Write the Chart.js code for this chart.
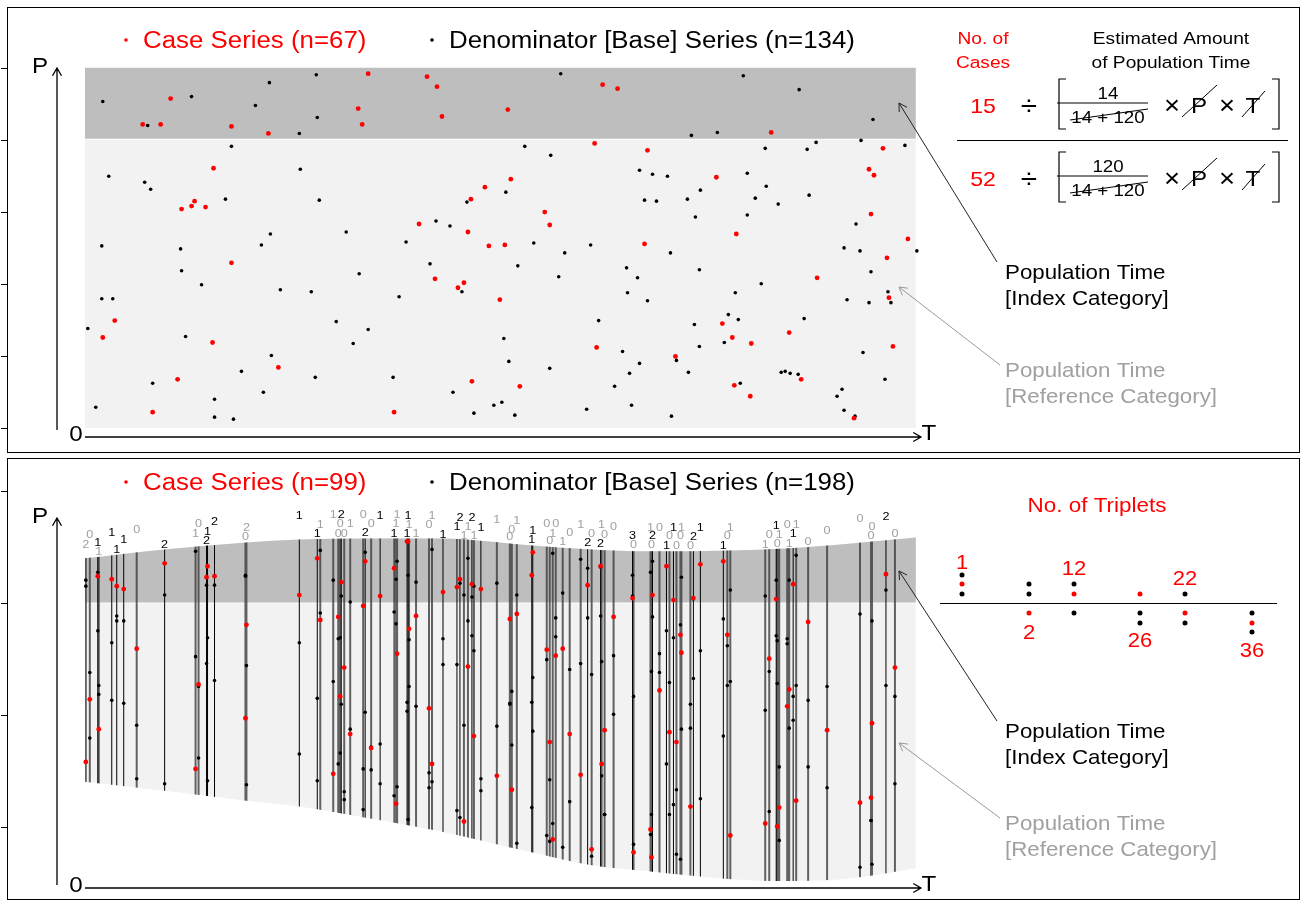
<!DOCTYPE html>
<html>
<head>
<meta charset="utf-8">
<title>Case series and base series in population time</title>
<script src="https://cdn.jsdelivr.net/npm/chart.js@4/dist/chart.umd.min.js"></script>
<style>
html, body { margin: 0; padding: 0; background: #fff; overflow: hidden; }
#wrap { position: relative; width: 1301px; height: 902px; }
#top { position: absolute; left: 0; top: 0; }
#bot { position: absolute; left: 0; top: 455px; }
</style>
</head>
<body>
<div id="wrap">
  <canvas id="top" width="1301" height="455"></canvas>
  <canvas id="bot" width="1301" height="447"></canvas>
</div>
<script>
// ---------------- top panel: cases / base series (T, P) ----------------
var topCaseT = [86,274,58,76,147,184,278,129,110,107,121,97,147,30,18,128,194,93,68,
  284,343,353,358,424,519,534,511,427,401,387,461,466,335,384,405,421,561,351,374,380,416,513,388,436,310,
  688,564,800,633,786,791,788,653,825,804,734,806,639,649,668,706,810,592,718,651,667,771];
var topCaseP = [331,321,305,305,303,296,305,261,228,223,222,220,166,108,91,86,61,49,16,
  356,353,343,313,320,345,341,286,250,242,230,217,204,205,197,183,184,185,150,141,146,129,81,47,42,16,
  297,279,281,252,260,254,215,195,190,171,151,131,105,91,85,96,82,72,49,43,32,10];
var topBaseT = [232,185,18,107,171,233,63,215,147,24,216,60,66,141,235,186,177,262,17,96,97,275,117,196,227,17,28,252,3,284,101,269,187,157,231,68,179,130,11,130,149,
  477,441,467,556,422,383,561,352,366,322,450,507,481,346,434,475,543,554,378,544,564,315,515,420,539,425,466,556,546,309,531,369,548,410,418,390,431,503,
  660,716,790,608,634,778,733,724,682,822,569,584,664,683,617,604,573,672,695,726,664,612,773,587,761,777,834,616,788,678,652,805,808,764,786,645,655,721,611,616,641,780,593,605,698,702,707,715,802,657,759,754,761,772,588];
var topBaseP = [355,347,328,333,324,312,304,296,283,253,260,247,240,230,229,195,184,197,183,180,158,155,144,139,137,130,130,107,100,99,92,85,73,57,51,45,36,29,21,11,9,
  356,283,274,259,237,227,229,208,203,187,186,184,176,165,163,152,161,151,137,136,128,132,108,90,77,67,60,65,55,51,42,36,23,23,26,15,13,19,
  354,340,310,294,297,289,287,280,281,284,255,253,256,243,239,230,228,231,225,234,214,212,205,176,181,178,178,159,157,145,136,137,126,129,126,114,109,110,104,82,86,76,68,56,56,57,55,54,49,45,39,32,18,12,12];
var topSpanT = [0, 833];
var topIndexP = [290.7, 362];     // index category band
var topRefP = [0, 289.7];         // reference category band
var topTicksP = [0, 72.4, 144.8, 217.2, 289.6, 362];

// ---------------- bottom panel: triplets ----------------
var bndT    = [0, 80, 162, 215, 280, 357, 448, 508, 565, 648, 702, 768, 833];
var bndTopP = [384, 393, 400, 403, 404, 404, 397, 393, 391, 392, 394, 399, 405];
var bndBotP = [159, 150, 140, 134, 123, 109, 88, 75, 69, 61, 59, 62, 72];
var botIndexP = 339;
var botTicksP = [113, 226, 339, 452];

var triT = [1,5,13,14,27,32,39,52,80,111,114,122,123,130,161,162,215,233,236,249,254,256,257,260,266,279,281,
  287,296,310,312,313,323,324,325,332,345,348,359,373,376,380,384,388,390,397,413,426,428,433,448,449,463,466,469,472,479,486,497,504,508,517,518,521,530,549,550,
  567,568,569,576,583,586,590,593,597,598,607,610,617,640,644,647,682,686,693,694,696,704,706,710,713,725,744,777,788,789,803,812];
var triLab = ['2','0','1','1','1','1','1','0','2','1','0','2','1','2','0','2','1','1','1','1','0','0','2','0','1','0','2',
  '0','1','1','1','1','1','1','1','1','0','1','1','1','2','1','1','2','1','1','1','0','0','1','1','1','0','0','1','0','1','0','1','2','0','2','1','0','0','3','0',
  '1','0','2','0','1','0','1','0','0','1','0','2','1','1','0','1','1','0','1','0','1','0','1','1','1','0','0','0','0','0','2','0'];
var triGray = [1,1,0,1,0,0,0,1,0,1,1,0,0,0,1,1,0,0,1,1,1,1,0,1,1,1,0,
  1,0,0,1,1,0,0,1,1,1,1,0,0,0,1,1,0,1,0,1,1,1,1,0,0,1,1,1,1,1,1,1,0,1,0,1,1,1,0,1,
  1,1,0,1,0,1,0,1,1,1,1,0,0,0,1,1,1,1,0,1,1,1,1,0,1,1,1,1,1,1,0,1];
var triLabP = [399,409,401,392,411,394,404,414,399,410,420,403,412,422,407,416,428,410,419,429,410,420,429,410,420,429,411,
  420,428,410,420,429,410,428,419,410,419,428,409,417,426,408,417,426,408,416,424,407,414,423,404,413,420,403,410,420,402,411,419,401,410,400,419,409,417,408,399,
  416,399,408,416,398,408,416,398,408,416,398,407,416,398,408,416,399,409,418,400,409,419,400,410,419,402,413,425,408,417,427,410];
var triCaseP = [179,242,366,212,363,356,353,293,379,172,257,365,376,366,223,317,347,384,322,167,325,245,360,274,207,336,381,
  193,346,374,137,288,401,401,313,326,233,177,350,355,363,119,275,358,205,353,165,323,151,328,367,390,292,199,101,286,293,207,166,357,91,376,177,211,325,344,88,
  111,83,347,251,376,209,342,199,307,289,134,344,378,381,307,105,117,283,343,114,133,235,252,358,140,320,211,138,143,218,368,274];
var triBaseP1 = [362,269,370,256,299,326,321,216,347,391,255,357,304,357,367,276,299,243,392,362,303,304,346,149,340,172,390,
  171,197,330,363,381,239,367,302,360,168,393,303,277,359,347,384,345,356,162,359,238,250,347,239,264,282,161,389,324,349,272,383,374,267,375,280,126,286,346,245,
  370,270,381,288,311,259,304,151,317,365,237,343,291,323,296,352,346,270,362,301,174,303,362,245,387,241,255,328,120,321,352,245];
var triBaseP2 = [356,203,311,247,241,321,238,162,157,285,183,278,160,261,366,156,187,160,329,260,177,188,237,141,212,131,229,
  194,157,145,318,154,230,121,255,235,153,159,277,130,123,216,321,306,291,150,215,237,196,97,133,210,105,99,117,305,93,139,278,324,84,326,165,126,227,367,96,
  106,126,325,269,177,126,136,86,81,212,213,263,142,205,256,260,231,129,306,258,100,298,213,221,256,174,153,73,120,76,256,157];

var keyCounts = ['1', '2', '12', '26', '22', '36'];

// ---------------- drawing helpers ----------------
var FONT = '"Liberation Sans", Arial, Helvetica, sans-serif';
var SX = 1.1;   // text in the picture is a little wide
var RED = '#FF0000', GREY_TXT = '#A0A0A0';

// y is the visual middle of the capitals
function drawText(ctx, s, x, y, size, color, align) {
  ctx.save();
  ctx.font = size + 'px ' + FONT;
  ctx.fillStyle = color;
  ctx.textAlign = align || 'center';
  ctx.textBaseline = 'alphabetic';
  ctx.translate(x, y + 0.36 * size);
  ctx.scale(SX, 1);
  ctx.fillText(s, 0, 0);
  ctx.restore();
}
function seg(ctx, x0, y0, x1, y1, color, w) {
  ctx.save();
  ctx.strokeStyle = color; ctx.lineWidth = w || 1;
  ctx.beginPath(); ctx.moveTo(x0, y0); ctx.lineTo(x1, y1); ctx.stroke();
  ctx.restore();
}
function arrow(ctx, x0, y0, x1, y1, color, w) {
  var a = Math.atan2(y1 - y0, x1 - x0), L = 9, h = Math.PI / 6;
  ctx.save();
  ctx.strokeStyle = color; ctx.lineWidth = w || 1;
  ctx.beginPath();
  ctx.moveTo(x0, y0); ctx.lineTo(x1, y1);
  ctx.moveTo(x1 - L * Math.cos(a - h), y1 - L * Math.sin(a - h));
  ctx.lineTo(x1, y1);
  ctx.lineTo(x1 - L * Math.cos(a + h), y1 - L * Math.sin(a + h));
  ctx.stroke();
  ctx.restore();
}
function dot(ctx, x, y, r, color) {
  ctx.save(); ctx.fillStyle = color;
  ctx.beginPath(); ctx.arc(x, y, r, 0, Math.PI * 2); ctx.fill();
  ctx.restore();
}
function axes(ctx, yTop, yBot, yAx) {
  arrow(ctx, 57, yBot, 57, yTop, '#000', 1.3);
  arrow(ctx, 85, yAx, 921, yAx, '#000', 1.3);
  drawText(ctx, 'P', 40, yTop - 3, 22, '#000');
  drawText(ctx, '0', 76, yAx - 4, 22, '#000');
  drawText(ctx, 'T', 929, yAx - 5, 22, '#000');
}
function legend(ctx, y, nCase, nBase) {
  dot(ctx, 126, y, 1.8, RED);
  drawText(ctx, 'Case Series (n=' + nCase + ')', 143, y, 23.5, RED, 'left');
  dot(ctx, 432, y, 1.8, '#000');
  drawText(ctx, 'Denominator [Base] Series (n=' + nBase + ')', 449, y, 23.5, '#000', 'left');
}
function categoryNotes(ctx, yIdx, yRef, tipIdx, tipRef) {
  arrow(ctx, 997, yIdx - 10, 899, tipIdx, '#222', 1);
  arrow(ctx, 1000, yRef - 5, 899, tipRef, '#999', 1);
  drawText(ctx, 'Population Time', 1005, yIdx, 20.3, '#000', 'left');
  drawText(ctx, '[Index Category]', 1005, yIdx + 26, 20.3, '#000', 'left');
  drawText(ctx, 'Population Time', 1005, yRef, 20.3, GREY_TXT, 'left');
  drawText(ctx, '[Reference Category]', 1005, yRef + 26, 20.3, GREY_TXT, 'left');
}
function formulaRow(ctx, yc, nCases, num) {
  drawText(ctx, nCases, 983, yc, 21, RED);
  drawText(ctx, '\u00F7', 1029, yc, 27, '#000');
  ctx.save(); ctx.strokeStyle = '#000'; ctx.lineWidth = 1.2;
  ctx.beginPath();
  ctx.moveTo(1066, yc - 26); ctx.lineTo(1059, yc - 26); ctx.lineTo(1059, yc + 24); ctx.lineTo(1066, yc + 24);
  ctx.moveTo(1272, yc - 26); ctx.lineTo(1279, yc - 26); ctx.lineTo(1279, yc + 24); ctx.lineTo(1272, yc + 24);
  ctx.stroke(); ctx.restore();
  drawText(ctx, num, 1108, yc - 12, 17, '#000');
  seg(ctx, 1057, yc - 2, 1148, yc - 2, '#000', 1);
  drawText(ctx, '14 + 120', 1108, yc + 12, 17, '#000');
  seg(ctx, 1070, yc + 15, 1148, yc + 4, '#000', 1);
  drawText(ctx, '\u00D7', 1172, yc, 25, '#000');
  drawText(ctx, 'P', 1199, yc, 22, '#000');
  seg(ctx, 1182, yc + 12, 1217, yc - 20, '#000', 1);
  drawText(ctx, '\u00D7', 1227, yc, 25, '#000');
  drawText(ctx, 'T', 1253, yc, 22, '#000');
  seg(ctx, 1242, yc + 12, 1265, yc - 14, '#000', 1);
}

// ---------------- top chart ----------------
var topDecor = {
  id: 'topDecor',
  afterDraw: function (chart) {
    var ctx = chart.ctx, ys = chart.scales.y;
    ctx.save(); ctx.strokeStyle = '#000'; ctx.lineWidth = 1;
    ctx.strokeRect(7.5, 7.5, 1292, 445); ctx.restore();
    topTicksP.forEach(function (p) {
      var y = Math.round(ys.getPixelForValue(p)) + 0.5;
      seg(ctx, 1, y, 7, y, '#000', 1);
    });
    axes(ctx, 68, 430, 437);
    legend(ctx, 40, topCaseT.length, topBaseT.length);

    drawText(ctx, 'No. of', 983, 38, 17.4, RED);
    drawText(ctx, 'Cases', 983, 62, 17.4, RED);
    drawText(ctx, 'Estimated Amount', 1171, 38, 17.4, '#000');
    drawText(ctx, 'of Population Time', 1171, 62, 17.4, '#000');
    formulaRow(ctx, 105, '15', '14');
    seg(ctx, 957, 140.5, 1288, 140.5, '#000', 1.2);
    formulaRow(ctx, 178, '52', '120');

    categoryNotes(ctx, 272, 370, 103, 287);
  }
};

new Chart(document.getElementById('top'), {
  type: 'scatter',
  data: {
    datasets: [
      { type: 'line', order: 4, data: topSpanT.map(function (t) { return { x: t, y: topIndexP[1] }; }),
        fill: { value: topIndexP[0] }, backgroundColor: '#BEBEBE', borderWidth: 0, pointRadius: 0 },
      { type: 'line', order: 5, data: topSpanT.map(function (t) { return { x: t, y: topRefP[1] }; }),
        fill: { value: topRefP[0] }, backgroundColor: '#F2F2F2', borderWidth: 0, pointRadius: 0 },
      { order: 2, data: topBaseT.map(function (t, i) { return { x: t, y: topBaseP[i] }; }),
        pointRadius: 1.8, pointBackgroundColor: '#000', pointBorderWidth: 0 },
      { order: 1, data: topCaseT.map(function (t, i) { return { x: t, y: topCaseP[i] }; }),
        pointRadius: 2.4, pointBackgroundColor: RED, pointBorderWidth: 0 }
    ]
  },
  options: {
    responsive: false, animation: false, devicePixelRatio: 1, events: [],
    layout: { padding: { left: 7, right: 1, top: 7, bottom: 2 } },
    plugins: { legend: { display: false }, tooltip: { enabled: false } },
    scales: {
      x: { type: 'linear', display: false, min: -78, max: 1215 },
      y: { type: 'linear', display: false, min: -23, max: 423 }
    }
  },
  plugins: [topDecor]
});

// ---------------- bottom chart ----------------
function vlines(gray) {
  var out = [];
  triT.forEach(function (t, i) {
    if (triGray[i] !== gray) return;
    out.push({ x: t, y: 0 }, { x: t, y: 500 }, { x: t, y: null });
  });
  return out;
}
var basePts = [];
triT.forEach(function (t, i) {
  basePts.push({ x: t, y: triBaseP1[i] }, { x: t, y: triBaseP2[i] });
});

// vertical triplet lines only inside the population-time region
var regionClip = {
  id: 'regionClip',
  beforeDatasetDraw: function (chart, args) {
    if (args.index !== 4 && args.index !== 5) return;
    var ctx = chart.ctx, a = chart.chartArea;
    var top = chart.getDatasetMeta(0), bot = chart.getDatasetMeta(1);
    top.dataset.updateControlPoints(a, 'x');
    bot.dataset.updateControlPoints(a, 'x');
    var x0 = top.data[0].x, x1 = top.data[top.data.length - 1].x;
    ctx.save();
    ctx.beginPath(); top.dataset.path(ctx);
    ctx.lineTo(x1, a.bottom); ctx.lineTo(x0, a.bottom); ctx.closePath(); ctx.clip();
    ctx.beginPath(); bot.dataset.path(ctx);
    ctx.lineTo(x1, a.top); ctx.lineTo(x0, a.top); ctx.closePath(); ctx.clip();
  },
  afterDatasetDraw: function (chart, args) {
    if (args.index === 4 || args.index === 5) chart.ctx.restore();
  }
};

var botDecor = {
  id: 'botDecor',
  afterDraw: function (chart) {
    var ctx = chart.ctx, xs = chart.scales.x, ys = chart.scales.y;
    botTicksP.forEach(function (p) {
      var y = Math.round(ys.getPixelForValue(p)) + 0.5;
      seg(ctx, 1, y, 7, y, '#000', 1);
    });
    triT.forEach(function (t, i) {
      drawText(ctx, triLab[i], xs.getPixelForValue(t), ys.getPixelForValue(triLabP[i]), 11.5,
        triGray[i] ? GREY_TXT : '#000');
    });

    ctx.save();
    ctx.translate(0, -455);
    ctx.strokeStyle = '#000'; ctx.lineWidth = 1;
    ctx.strokeRect(7.5, 458.5, 1292, 441);
    axes(ctx, 518, 885, 888);
    legend(ctx, 482, triCaseP.length, basePts.length);

    drawText(ctx, 'No. of Triplets', 1097, 505, 20.4, RED);
    seg(ctx, 940, 603.5, 1277, 603.5, '#000', 1.2);
    // key: dots above the rule are in the index category
    var cols = [962, 1029, 1074, 1140, 1185, 1252];
    var rows = [[575, 584, 594], [584, 594, 613], [584, 594, 613], [594, 613, 623], [594, 613, 623], [613, 623, 632]];
    var redAt = [1, 2, 1, 0, 1, 1];
    var labY = [562, 632, 568, 640, 578, 650];
    cols.forEach(function (x, k) {
      rows[k].forEach(function (y, j) { dot(ctx, x, y, 2.5, j === redAt[k] ? RED : '#000'); });
      drawText(ctx, keyCounts[k], x, labY[k], 20, RED);
    });

    categoryNotes(ctx, 731, 823, 571, 743);
    ctx.restore();
  }
};

new Chart(document.getElementById('bot'), {
  type: 'scatter',
  data: {
    datasets: [
      { type: 'line', order: 9, data: bndT.map(function (t, i) { return { x: t, y: bndTopP[i] }; }),
        fill: 1, backgroundColor: '#F2F2F2', borderWidth: 0, pointRadius: 0, cubicInterpolationMode: 'monotone' },
      { type: 'line', order: 8, data: bndT.map(function (t, i) { return { x: t, y: bndBotP[i] }; }),
        fill: false, borderWidth: 0, pointRadius: 0, cubicInterpolationMode: 'monotone' },
      { type: 'line', order: 7, data: bndT.map(function (t, i) { return { x: t, y: bndTopP[i] }; }),
        fill: { value: botIndexP }, backgroundColor: '#BEBEBE', borderWidth: 0, pointRadius: 0, cubicInterpolationMode: 'monotone' },
      { type: 'line', order: 6, data: [{ x: bndT[0], y: botIndexP }, { x: bndT[bndT.length - 1], y: botIndexP }],
        fill: false, borderColor: '#FFFFFF', borderWidth: 1, pointRadius: 0 },
      { type: 'line', order: 5, data: vlines(1), fill: false, spanGaps: false,
        borderColor: 'rgba(60,60,60,0.8)', borderWidth: 2, pointRadius: 0 },
      { type: 'line', order: 4, data: vlines(0), fill: false, spanGaps: false,
        borderColor: '#000', borderWidth: 1, pointRadius: 0 },
      { order: 2, data: basePts, pointRadius: 1.8, pointBackgroundColor: '#000', pointBorderWidth: 0 },
      { order: 1, data: triT.map(function (t, i) { return { x: t, y: triCaseP[i] }; }),
        pointRadius: 2.4, pointBackgroundColor: RED, pointBorderWidth: 0 }
    ]
  },
  options: {
    responsive: false, animation: false, devicePixelRatio: 1, events: [],
    layout: { padding: { left: 7, right: 1, top: 3, bottom: 2 } },
    plugins: { legend: { display: false }, tooltip: { enabled: false } },
    scales: {
      x: { type: 'linear', display: false, min: -78, max: 1215 },
      y: { type: 'linear', display: false, min: 42, max: 484 }
    }
  },
  plugins: [regionClip, botDecor]
});
</script>
</body>
</html>
